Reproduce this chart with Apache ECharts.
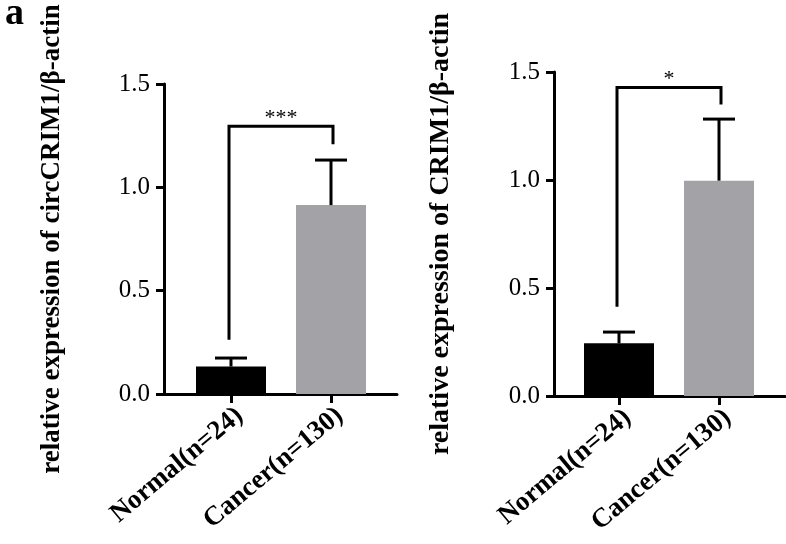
<!DOCTYPE html>
<html>
<head>
<meta charset="utf-8">
<script src="https://cdn.jsdelivr.net/npm/echarts@6/dist/echarts.min.js"></script>
<style>html,body{margin:0;padding:0;background:#fff}#c{width:786px;height:544px}</style>
</head>
<body>
<div id="c"></div>
<script>
var categories = ['Normal(n=24)', 'Cancer(n=130)'];
var leftMeans = [0.133, 0.914];
var leftUpper = [0.174, 1.132];
var rightMeans = [0.244, 0.997];
var rightUpper = [0.296, 1.282];
var leftBracket = [0.262, 1.296, 1.208];
var rightBracket = [0.413, 1.428, 1.35];
var leftSig = '***';
var rightSig = '*';
var yTicks = [0, 0.5, 1.0, 1.5];
var leftTitle = 'relative expression of circCRIM1/\u03b2-actin';
var rightTitle = 'relative expression of CRIM1/\u03b2-actin';
var panelLabel = 'a';
var barColors = ['#000000', '#a3a3a7'];

var SERIF = '"Liberation Serif", "Times New Roman", serif';

function barData(vals) {
  return vals.map(function (v, i) { return { value: v, itemStyle: { color: barColors[i] } }; });
}
function errData(means, upper) {
  return means.map(function (m, i) { return [i, m, upper[i]]; });
}
function errRender(params, api) {
  var x = api.value(0);
  var p0 = api.coord([x, api.value(1)]);
  var p1 = api.coord([x, api.value(2)]);
  var hw = 16;
  var st = { stroke: '#000', lineWidth: 3 };
  return { type: 'group', children: [
    { type: 'line', shape: { x1: p0[0], y1: p0[1], x2: p1[0], y2: p1[1] }, style: st },
    { type: 'line', shape: { x1: p1[0] - hw, y1: p1[1], x2: p1[0] + hw, y2: p1[1] }, style: st }
  ]};
}
function bracketRender(params, api) {
  var a = api.coord([api.value(0), api.value(2)]);
  var top = api.coord([api.value(0), api.value(3)]);
  var b = api.coord([api.value(1), api.value(4)]);
  var bt = api.coord([api.value(1), api.value(3)]);
  var st = { stroke: '#000', lineWidth: 3, fill: null };
  return { type: 'group', children: [
    { type: 'polyline', shape: { points: [[a[0] - 2, a[1]], [top[0] - 2, top[1]], [bt[0] + 2, bt[1]], [b[0] + 2, b[1]]] }, style: st },
    { type: 'text', style: { text: api.value(5), x: (top[0] + bt[0]) / 2, y: top[1] - 8, align: 'center', verticalAlign: 'middle', fontSize: 22, fontFamily: SERIF, fill: '#000' } }
  ]};
}

function catAxis(gi) {
  return {
    type: 'category', gridIndex: gi, data: categories,
    axisLine: { show: false },
    axisTick: { show: true, alignWithLabel: true, length: 9, lineStyle: { color: '#000', width: 3 } },
    axisLabel: { rotate: 40, margin: 8, verticalAlign: 'top', fontFamily: SERIF, fontWeight: 'bold', fontSize: 27, color: '#000' }
  };
}
function valAxis(gi, offset, title, gap, fs) {
  return {
    type: 'value', gridIndex: gi, min: 0, max: 1.5, interval: 0.5, offset: offset,
    splitLine: { show: false },
    axisLine: { show: true, lineStyle: { color: '#000', width: 3 } },
    axisTick: { show: true, length: 8, lineStyle: { color: '#000', width: 3 } },
    axisLabel: { margin: 14, fontFamily: SERIF, fontSize: 25, color: '#000', formatter: function (v) { return v.toFixed(1); } },
    name: title, nameLocation: 'middle', nameRotate: 90, nameGap: gap,
    nameTextStyle: { fontFamily: SERIF, fontWeight: 'bold', fontSize: fs, color: '#000' }
  };
}
function lineXAxis(gi) {
  return { type: 'value', gridIndex: gi, min: 0, max: 1, axisLine: { show: true, onZero: false, lineStyle: { color: '#000', width: 3 } },
    axisTick: { show: false }, axisLabel: { show: false }, splitLine: { show: false } };
}
function hiddenY(gi) {
  return { type: 'value', gridIndex: gi, min: 0, max: 1, show: false };
}

var chart = echarts.init(document.getElementById('c'), null, { renderer: 'canvas' });
chart.setOption({
  animation: false,
  backgroundColor: '#fff',
  title: { text: panelLabel, left: 0, top: -10, textStyle: { fontFamily: SERIF, fontWeight: 'bold', fontSize: 38, color: '#000' } },
  grid: [
    { left: 181, width: 200, top: 84, height: 310 },
    { left: 569, width: 200, top: 72, height: 324 },
    { left: 164, width: 233, top: 84, height: 310 },
    { left: 554, width: 231, top: 72, height: 324 }
  ],
  xAxis: [catAxis(0), catAxis(1), lineXAxis(2), lineXAxis(3)],
  yAxis: [valAxis(0, 17, leftTitle, 98, 27), valAxis(1, 15, rightTitle, 99, 28), hiddenY(2), hiddenY(3)],
  series: [
    { type: 'bar', xAxisIndex: 0, yAxisIndex: 0, barWidth: 70, data: barData(leftMeans), z: 2 },
    { type: 'bar', xAxisIndex: 1, yAxisIndex: 1, barWidth: 70, data: barData(rightMeans), z: 2 },
    { type: 'custom', xAxisIndex: 0, yAxisIndex: 0, renderItem: errRender, data: errData(leftMeans, leftUpper), z: 3 },
    { type: 'custom', xAxisIndex: 1, yAxisIndex: 1, renderItem: errRender, data: errData(rightMeans, rightUpper), z: 3 },
    { type: 'custom', xAxisIndex: 0, yAxisIndex: 0, renderItem: bracketRender, data: [[0, 1, leftBracket[0], leftBracket[1], leftBracket[2], leftSig]], z: 3 },
    { type: 'custom', xAxisIndex: 1, yAxisIndex: 1, renderItem: bracketRender, data: [[0, 1, rightBracket[0], rightBracket[1], rightBracket[2], rightSig]], z: 3 }
  ]
});
</script>
</body>
</html>
